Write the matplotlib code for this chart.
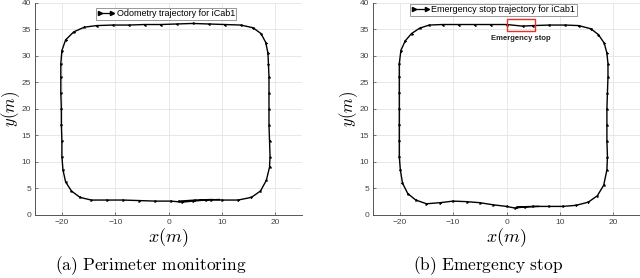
import numpy as np
import matplotlib
matplotlib.use("Agg")
import matplotlib.pyplot as plt
from matplotlib.lines import Line2D
from matplotlib.patches import Rectangle

plt.rcParams["mathtext.fontset"] = "cm"
plt.rcParams["font.family"] = ["Liberation Sans", "DejaVu Sans"]

# trajectory, counter-clockwise, metres
odo_x = [2, 5, 8, 10, 13, 15.5, 17.2, 18.3, 18.9, 19.0, 18.9, 18.8, 18.8, 18.8, 18.8, 18.7,
         18.6, 18.2, 17.3, 15.8, 13.5, 10.5, 7.5, 4.5, 1.5, -1.5, -4.5, -7.5, -10.5, -13.5,
         -15.8, -17.8, -19.3, -20.0, -20.2, -20.2, -20.2, -20.1, -20.1, -20.0, -20.0, -19.8,
         -19.3, -18.2, -16.6, -14.5, -11.5, -8.5, -5.5, -2.5, 0.5, 2.5, 4.5, 7, 9.5]
odo_y = [2.6, 2.8, 2.9, 2.8, 2.8, 3.3, 4.5, 6.5, 9, 11, 14, 17, 20, 23, 26, 28.5,
         30.5, 32.5, 34.2, 35.3, 35.8, 35.9, 36.0, 36.1, 36.0, 35.9, 35.9, 35.8, 35.8, 35.7,
         35.4, 34.5, 33, 31, 28.5, 26, 23, 20, 17, 14, 11, 8.5,
         6.2, 4.5, 3.3, 2.8, 2.8, 2.8, 2.7, 2.6, 2.6, 2.4, 2.6, 2.8, 2.9]

stop_x = [2, 5, 8, 10.5, 13, 15.3, 17, 18.2, 18.8, 18.9, 18.8, 18.8, 18.8, 18.9, 19.0, 19.0,
          18.8, 18.3, 17.2, 15.8, 13.5, 11, 8, 5, 3, 0, -3, -6, -9, -12, -14.5, -16.3,
          -17.8, -19.0, -19.8, -20.1, -20.1, -20.1, -20.1, -20.1, -20.1, -20.1, -19.9,
          -19.5, -18.5, -17, -15, -12.5, -10, -7.5, -5, -2.5, 0, 1.5, 3.5, 6]
stop_y = [1.5, 1.6, 1.6, 1.6, 1.8, 2.4, 3.6, 5.6, 8.5, 11, 14, 17, 20, 23, 26, 28.5,
          30.5, 32.4, 34.0, 35.1, 35.7, 35.8, 35.8, 35.7, 35.6, 35.9, 35.9, 35.9, 35.9, 35.9,
          35.8, 35.2, 34.2, 32.8, 31.0, 28.5, 26, 23, 20, 17, 14, 11, 8.5,
          6.0, 4.0, 2.8, 2.1, 2.3, 2.6, 2.5, 2.3, 1.9, 1.6, 1.3, 1.5, 1.6]

# emergency stop box [x0, y0, width, height]
stop_box = [0.0, 34.7, 5.3, 2.3]

x_ticks = [-20, -10, 0, 10, 20]
y_ticks = [0, 5, 10, 15, 20, 25, 30, 35, 40]


def draw_path(ax, xs, ys):
    ax.plot(xs, ys, color="black", lw=1.0, zorder=3)
    # arrowhead at every point, pointing to the next one
    for i in range(len(xs) - 1):
        ang = np.degrees(np.arctan2(ys[i + 1] - ys[i], xs[i + 1] - xs[i]))
        ax.plot(xs[i], ys[i], marker=(3, 0, ang - 90), ms=2.0, color="black",
                mec="black", mew=0.4, zorder=4)


def style_axes(ax):
    ax.set_xlim(-25, 25)
    ax.set_ylim(0, 40)
    ax.set_xticks(x_ticks)
    ax.set_yticks(y_ticks)
    ax.grid(True, color="#e4e4e4", lw=0.6)
    ax.set_axisbelow(True)
    for s in ["top", "right"]:
        ax.spines[s].set_visible(False)
    for s in ["left", "bottom"]:
        ax.spines[s].set_color("#555555")
        ax.spines[s].set_linewidth(0.7)
    ax.tick_params(labelsize=6, colors="#444444", direction="in", length=2, width=0.5, pad=3)
    ax.set_xlabel(r"$x(m)$", fontsize=13, labelpad=0)
    ax.set_ylabel(r"$y(m)$", fontsize=12)
    ax.yaxis.set_label_coords(-0.048, 0.5)


def add_legend(ax, label, anchor):
    h = Line2D([], [], color="black", lw=0.9, marker=">", ms=3, markevery=[1])
    leg = ax.legend([h], [label], loc="upper center", bbox_to_anchor=anchor,
                    fontsize=6.5, numpoints=2, handlelength=2.0, handletextpad=0.2,
                    borderpad=0.15, borderaxespad=0, fancybox=False, framealpha=1)
    leg.get_frame().set_edgecolor("#888888")
    leg.get_frame().set_linewidth(0.6)


fig = plt.figure(figsize=(6.4, 2.78), dpi=100)
ax1 = fig.add_axes([0.055, 0.227, 0.417, 0.763])
ax2 = fig.add_axes([0.583, 0.227, 0.417, 0.763])

style_axes(ax1)
draw_path(ax1, odo_x, odo_y)
add_legend(ax1, "Odometry trajectory for iCab1", (0.49, 0.975))

style_axes(ax2)
draw_path(ax2, stop_x, stop_y)
add_legend(ax2, "Emergency stop trajectory for iCab1", (0.451, 0.995))
ax2.add_patch(Rectangle((stop_box[0], stop_box[1]), stop_box[2], stop_box[3],
                        fill=False, edgecolor="#e8302a", lw=1.0, zorder=5))
ax2.text(stop_box[0] + stop_box[2] / 2, 33.2, "Emergency stop", fontsize=5.5,
         fontweight="bold", ha="center", va="center", color="#222222")

fig.text(0.236, 0.045, r"$\mathrm{(a)\ Perimeter\ monitoring}$", fontsize=12.5,
         ha="center", va="center")
fig.text(0.762, 0.045, r"$\mathrm{(b)\ Emergency\ stop}$", fontsize=12.5,
         ha="center", va="center")

fig.savefig("out.png", dpi=100)
